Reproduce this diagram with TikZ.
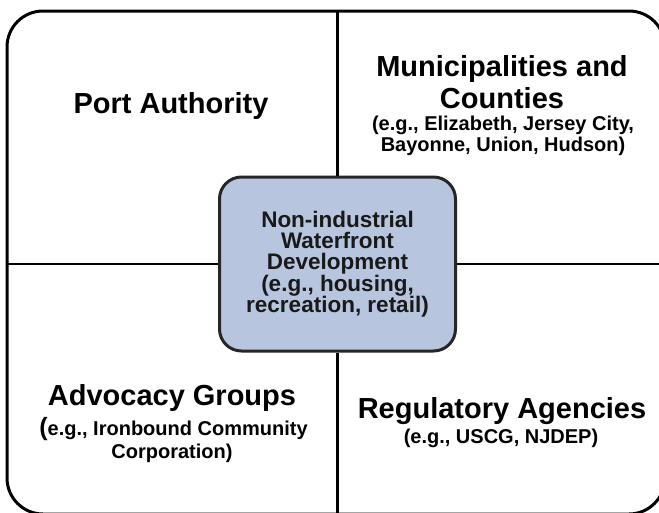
\documentclass[tikz,border=0pt]{standalone}
\usepackage{fontspec}
\setmainfont{Liberation Sans}
\definecolor{hubblue}{RGB}{184,197,222}
\begin{document}
\begin{tikzpicture}[x=1pt,y=-1pt,
  frame/.style={draw=black, line width=3pt, rounded corners=36pt},
  hub/.style={draw=black!85, line width=3pt, fill=hubblue, rounded corners=22pt,
    minimum width=236pt, minimum height=174pt, inner sep=0pt, align=center,
    font=\bfseries\fontsize{22.5}{21.3}\selectfont, text=black!90},
  divider/.style={line width=2.5pt, draw=black},
  title/.style={anchor=base, inner sep=0pt, font=\bfseries\fontsize{29}{31}\selectfont},
  example/.style={anchor=base, inner sep=0pt, font=\bfseries\fontsize{20}{22}\selectfont}]
\useasboundingbox (0,0) rectangle (659,512);
\clip (0,0) rectangle (659,512);
\node[frame, minimum width=658pt, minimum height=503pt] (outer) at (336,262.5) {};
\node[hub] (hub) at (337.5,264) {Non-industrial\\Waterfront\\Development\\(e.g., housing,\\recreation, retail)};
\draw[divider] (hub.north) -- (hub.north |- outer.north);
\draw[divider] (hub.south) -- (hub.south |- outer.south);
\draw[divider] (hub.west) -- (hub.west -| outer.west);
\draw[divider] (hub.east) -- (hub.east -| outer.east);
\node[title] (port) at (171,113) {Port Authority};
\node[title] (muni1) at (502,76) {Municipalities and};
\node[title] (muni2) at (502,108) {Counties};
\node[example] (muniex1) at (503,130) {(e.g., Elizabeth, Jersey City,};
\node[example] (muniex2) at (503,151) {Bayonne, Union, Hudson)};
\node[title] (adv) at (172,405) {Advocacy Groups};
\node[example] (advex1) at (173.5,435) {{\fontsize{25}{25}\selectfont(}e.g., Ironbound Community};
\node[example] (advex2) at (172,458) {Corporation)};
\node[title] (reg) at (502,418) {Regulatory Agencies};
\node[example] (regex) at (501,443) {(e.g., USCG, NJDEP)};
\end{tikzpicture}
\end{document}
